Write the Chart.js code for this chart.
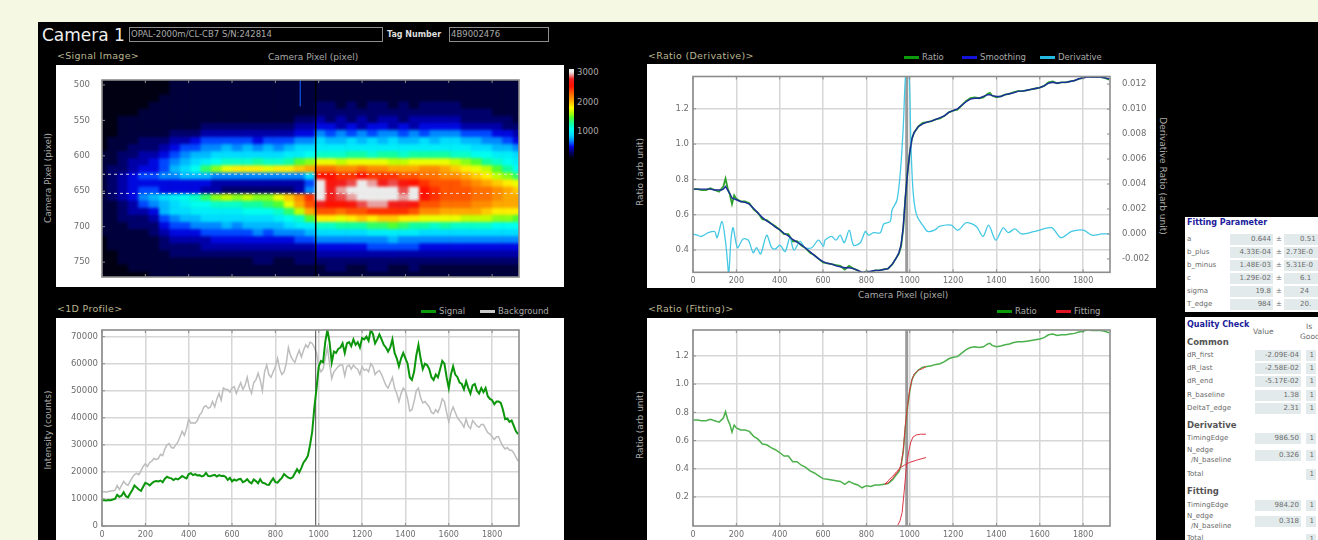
<!DOCTYPE html>
<html>
<head>
<meta charset="utf-8">
<script src="https://cdn.jsdelivr.net/npm/chart.js@4/dist/chart.umd.min.js"></script>
<style>
html, body { margin: 0; padding: 0; width: 1318px; height: 540px; overflow: hidden; background: #f5f9e3; }
#page { position: absolute; left: 0; top: 0; width: 1318px; height: 540px; overflow: hidden; filter: blur(0.65px); font-family: "DejaVu Sans", sans-serif; }
#board { position: absolute; left: 38px; top: 22px; width: 1280px; height: 518px; background: #000; }
canvas { position: absolute; background: #fff; }
#heatPanel { position: absolute; left: 56px; top: 65px; width: 508px; height: 222px; background: #fff; }
#cellClip { position: absolute; left: 102px; top: 80px; width: 417px; height: 197px; overflow: hidden; background: #000028; }
#cellChart { left: -46px; top: -15px; background: transparent; filter: blur(1.6px); }
#heatChart { background: transparent; }
.t { position: absolute; white-space: nowrap; line-height: 1; }
.head { color: #b9b58e; font-size: 9.5px; letter-spacing: .3px; }
.axis { color: #a8a8a8; font-size: 9px; }
.leg { color: #a8a8a8; font-size: 8.5px; }
.swatch { position: absolute; width: 15px; height: 3px; }
.rot-l { transform: translate(-50%, -50%) rotate(-90deg); }
.rot-r { transform: translate(-50%, -50%) rotate(90deg); }
.field { position: absolute; border: 1px solid #8d8d8d; color: #a9a9a9; font-size: 8.5px; line-height: 13px; padding-left: 1px; box-sizing: border-box; height: 15px; }
.side { position: absolute; left: 1185px; width: 133px; background: #fff; overflow: hidden; color: #6a6a6a; font-size: 7px; }
.side .box { position: absolute; background: #e3eaec; height: 11px; line-height: 11px; text-align: right; padding-right: 2px; box-sizing: border-box; }
.side .t.title { color: #20209a; font-weight: bold; font-size: 8px; }
.side .t.sect { color: #555; font-weight: bold; font-size: 8.5px; }
</style>
</head>
<body>
<div id="page">
  <div id="board"></div>

  <div class="t" style="left:42px;top:27px;color:#eee;font-size:17px">Camera 1</div>
  <div class="field" style="left:129px;top:27px;width:254px">OPAL-2000m/CL-CB7 S/N:242814</div>
  <div class="t" style="left:387px;top:31px;color:#ddd;font-size:8px;font-weight:bold">Tag Number</div>
  <div class="field" style="left:449px;top:27px;width:100px">4B9002476</div>

  <div class="t head" style="left:57px;top:51px">&lt;Signal Image&gt;</div>
  <div class="t head" style="left:648px;top:51px">&lt;Ratio (Derivative)&gt;</div>
  <div class="t head" style="left:57px;top:304px">&lt;1D Profile&gt;</div>
  <div class="t head" style="left:648px;top:304px">&lt;Ratio (Fitting)&gt;</div>

  <div class="t axis" style="left:268px;top:53px">Camera Pixel (pixel)</div>
  <div class="t axis" style="left:858px;top:291px">Camera Pixel (pixel)</div>
  <div class="t axis rot-l" style="left:48px;top:178px">Camera Pixel (pixel)</div>
  <div class="t axis rot-l" style="left:640px;top:172px">Ratio (arb unit)</div>
  <div class="t axis rot-r" style="left:1162px;top:176px">Derivative Ratio (arb unit)</div>
  <div class="t axis rot-l" style="left:48px;top:430px">Intensity (counts)</div>
  <div class="t axis rot-l" style="left:640px;top:425px">Ratio (arb unit)</div>

  <div class="swatch" style="left:904px;top:56px;background:#0a9a0a"></div><div class="t leg" style="left:922px;top:53px">Ratio</div>
  <div class="swatch" style="left:962px;top:56px;background:#1414d8"></div><div class="t leg" style="left:980px;top:53px">Smoothing</div>
  <div class="swatch" style="left:1040px;top:56px;background:#25b8e0"></div><div class="t leg" style="left:1058px;top:53px">Derivative</div>
  <div class="swatch" style="left:421px;top:310px;background:#0a9a0a"></div><div class="t leg" style="left:439px;top:307px">Signal</div>
  <div class="swatch" style="left:480px;top:310px;background:#c8c8c8"></div><div class="t leg" style="left:498px;top:307px">Background</div>
  <div class="swatch" style="left:997px;top:310px;background:#0a9a0a"></div><div class="t leg" style="left:1015px;top:307px">Ratio</div>
  <div class="swatch" style="left:1056px;top:310px;background:#e01525"></div><div class="t leg" style="left:1074px;top:307px">Fitting</div>

  <div id="colorbar" style="position:absolute;left:569px;top:69px;width:5px;height:89px"></div>
  <div class="t leg" style="left:577px;top:68px;font-size:8.5px">3000</div>
  <div class="t leg" style="left:577px;top:98px;font-size:8.5px">2000</div>
  <div class="t leg" style="left:577px;top:127px;font-size:8.5px">1000</div>

  <div id="heatPanel"></div>
  <div id="cellClip"><canvas id="cellChart" width="508" height="222"></canvas></div>
  <canvas id="heatChart" width="508" height="222" style="left:56px;top:65px"></canvas>
  <canvas id="derivChart" width="509" height="224" style="left:647px;top:64px"></canvas>
  <canvas id="profileChart" width="508" height="222" style="left:56px;top:318px"></canvas>
  <canvas id="fitChart" width="509" height="222" style="left:647px;top:318px"></canvas>

  <div class="side" id="fitParams" style="top:217px;height:95px"></div>
  <div class="side" id="quality" style="top:317px;height:223px"></div>
</div>

<script>
// ---- tick positions
var pixelTicks = [0,200,400,600,800,1000,1200,1400,1600,1800];
var rowTicks = [500,550,600,650,700,750];
var ratioTicks = [.4,.6,.8,1.0,1.2];
var fitRatioTicks = [.2,.4,.6,.8,1.0,1.2];
var derivTicks = [-.002,0,.002,.004,.006,.008,.010,.012];
var intensityTicks = [0,10000,20000,30000,40000,50000,60000,70000];

// ---- 1D profile, intensity read every 10 camera pixels
var profilePixels = [0,10,20,30,40,50,60,70,80,90,100,110,120,130,140,150,160,170,180,190,200,210,220,230,240,250,260,270,280,290,300,310,320,330,340,350,360,370,380,390,400,410,420,430,440,450,460,470,480,490,500,510,520,530,540,550,560,570,580,590,600,610,620,630,640,650,660,670,680,690,700,710,720,730,740,750,760,770,780,790,800,810,820,830,840,850,860,870,880,890,900,910,920,930,940,950,960,970,980,990,1000,1010,1020,1030,1040,1050,1060,1070,1080,1090,1100,1110,1120,1130,1140,1150,1160,1170,1180,1190,1200,1210,1220,1230,1240,1250,1260,1270,1280,1290,1300,1310,1320,1330,1340,1350,1360,1370,1380,1390,1400,1410,1420,1430,1440,1450,1460,1470,1480,1490,1500,1510,1520,1530,1540,1550,1560,1570,1580,1590,1600,1610,1620,1630,1640,1650,1660,1670,1680,1690,1700,1710,1720,1730,1740,1750,1760,1770,1780,1790,1800,1810,1820,1830,1840,1850,1860,1870,1880,1890,1900,1910,1920];
var signalValues = [9500,9500,9400,9600,9500,9800,10000,11500,10800,11200,12500,11000,10600,12000,13300,15000,14200,13500,13000,14500,16000,15600,15000,15800,16400,16600,16500,16800,16200,17500,18200,17800,17600,17000,17500,17200,17800,18500,18000,17600,19200,19500,18800,19200,18700,18800,18300,18600,19600,18500,18400,18700,18900,18300,18800,18500,18600,18200,17000,17800,16500,17200,16800,17300,17400,16200,16600,17300,16300,15800,17200,16600,15800,17300,16000,15800,15300,15200,16500,17600,16200,16000,17000,17800,19200,18500,17900,17600,18000,19500,21000,19800,21500,23500,24500,26000,30000,35000,44000,51000,59000,61000,60500,68000,72500,68000,60500,64500,64000,65500,66000,67500,64000,67500,68000,66500,69000,67000,68000,66000,69500,69000,70000,68500,72500,71000,67500,69000,70800,69000,67000,66000,64500,66000,69000,64000,62000,59000,62000,64000,62000,60000,55000,54000,57000,63000,67000,62000,58000,60000,59500,58000,55000,54000,56000,55000,58000,61000,60000,55000,51000,56000,59000,56000,55000,53000,52500,50500,53500,51000,49000,52000,52500,50000,49000,51000,49500,51000,48000,47000,46500,45000,46000,46000,45500,43000,39500,39800,38500,39000,37000,35000,34000];
var backgroundValues = [12700,12700,12500,12800,12900,13000,13200,15000,13500,15000,16500,15500,15000,16500,18000,19000,19500,19000,20500,22000,23000,22000,23500,24000,25000,24500,25000,26500,26000,28500,30000,30500,29000,28800,30000,31000,33000,35000,33500,36000,39500,38000,38200,38000,39000,41000,42000,44000,44500,43500,44000,46000,44000,47000,49000,46500,51000,50500,50500,49500,51000,51500,49000,51000,53000,50500,52000,55000,51000,49000,53000,54000,56500,54000,50000,57000,59500,56000,55000,57000,59000,62000,58000,56000,57000,60000,66000,63000,61500,60500,63000,65000,62500,65000,67000,66000,68000,67500,66000,64000,59000,57000,58000,62000,66000,60000,54500,57000,58000,59000,59500,59500,55500,59000,59500,58000,59500,58500,58000,56000,59000,57500,58000,57000,60000,59000,56000,57000,57500,56000,54000,52000,51000,53000,55000,51000,49000,46000,49000,51000,50000,47000,42500,43000,46000,50000,51000,47500,45500,46000,45000,44000,42000,41500,43000,42000,44000,47000,46000,42000,38500,42000,44000,42000,40000,39000,38000,36500,39500,37000,36000,39000,38000,37000,36500,37500,37500,36000,34500,34000,33000,32000,33000,33000,31000,29500,28500,29000,28000,28000,27000,25500,24000];

// ---- ratio, shared by both right hand charts
var ratioPixels = [0,20,40,60,80,100,120,130,140,150,160,170,180,190,200,220,240,260,280,300,320,340,360,380,400,420,440,460,480,500,520,540,560,580,600,620,640,660,680,700,720,740,760,780,800,820,840,860,880,900,920,940,950,960,970,980,990,1000,1010,1020,1040,1060,1080,1100,1120,1140,1160,1180,1200,1220,1240,1260,1280,1300,1320,1340,1360,1370,1380,1400,1420,1440,1460,1480,1500,1520,1540,1560,1580,1600,1620,1640,1660,1680,1700,1720,1740,1760,1780,1800,1820,1840,1860,1880,1900,1920];
var ratioValues = [.745,.745,.74,.74,.75,.74,.73,.745,.76,.805,.75,.715,.66,.71,.69,.675,.675,.665,.63,.61,.575,.57,.55,.535,.515,.49,.49,.45,.45,.425,.41,.385,.37,.35,.33,.325,.32,.315,.31,.29,.31,.295,.285,.265,.28,.275,.285,.285,.29,.295,.32,.36,.38,.42,.52,.70,.84,.95,1.03,1.065,1.10,1.12,1.125,1.13,1.14,1.145,1.16,1.18,1.19,1.195,1.22,1.245,1.26,1.265,1.26,1.265,1.285,1.29,1.275,1.265,1.27,1.28,1.285,1.295,1.30,1.30,1.305,1.31,1.315,1.32,1.33,1.35,1.355,1.345,1.35,1.35,1.355,1.36,1.37,1.375,1.385,1.38,1.38,1.38,1.375,1.365];
var smoothingValues = [.745,.745,.745,.745,.745,.74,.74,.74,.745,.76,.74,.72,.695,.69,.685,.675,.67,.66,.635,.61,.585,.565,.55,.53,.515,.495,.48,.46,.445,.43,.41,.39,.37,.35,.335,.325,.32,.31,.305,.30,.30,.295,.285,.275,.275,.28,.285,.285,.29,.295,.32,.36,.385,.43,.53,.70,.84,.95,1.03,1.065,1.10,1.115,1.125,1.13,1.14,1.15,1.16,1.18,1.19,1.20,1.22,1.24,1.255,1.26,1.26,1.27,1.28,1.28,1.275,1.27,1.27,1.28,1.285,1.29,1.30,1.30,1.305,1.31,1.315,1.32,1.33,1.345,1.35,1.345,1.35,1.35,1.355,1.36,1.37,1.375,1.38,1.38,1.38,1.38,1.375,1.37];

var derivPixels = [0,20,38,70,100,111,134,150,158,165,175,185,205,231,255,278,293,312,340,363,380,401,425,447,466,494,517,548,579,602,609,640,659,679,698,721,741,772,795,810,833,864,880,910,918,941,957,970,980,990,998,1006,1015,1025,1037,1060,1083,1114,1137,1191,1222,1261,1307,1338,1364,1397,1431,1454,1485,1516,1577,1654,1698,1747,1801,1842,1886,1920];
var derivValues = [0,-.0001,-.0002,.0001,.0002,-.0003,.001,-.0006,-.002,-.0032,-.0005,.0005,-.0011,-.0004,-.0005,-.0015,-.0011,-.0016,-.0001,-.0011,-.0012,-.0009,-.0014,-.0003,-.0013,-.0006,-.0011,-.0011,-.0005,-.001,-.0005,-.0002,-.0005,-.0001,-.0007,.0003,-.0009,-.0007,.0002,-.0001,.0001,.0001,.0008,.001,.0019,.0027,.005,.0085,.0125,.0135,.0125,.0069,.0035,.002,.0013,.0007,.0002,.0003,.0006,.0007,.0003,.0009,.0006,-.0002,.0007,-.0005,.0005,.0001,.0004,0,.0002,.0005,-.0003,.0002,.0003,-.0001,0,0];

// ---- the three fitted curves
var fitPixels = [885,900,920,940,950,960,970,980,990,1000,1010,1020,1040,1060,1075];
var fitTotal = [.29,.30,.33,.37,.39,.43,.53,.71,.85,.96,1.03,1.07,1.10,1.11,1.125];
var stepPixels = [945,955,965,975,985,995,1005,1015,1030,1050,1075];
var fitStep = [0,.03,.09,.25,.42,.52,.59,.625,.64,.645,.645];
var linePixels = [885,900,920,940,960,980,1000,1030,1075];
var fitLine = [.29,.315,.345,.38,.41,.43,.445,.46,.48];

var edgePixel = [986];

// ---- signal image, counts in hundreds, columns every 48 px, rows every 10 px
var heatColumns = [0,48,96,144,192,240,288,336,384,432,480,528,576,624,672,720,768,816,864,912,960,1008,1056,1104,1152,1200,1248,1296,1344,1392,1440,1488,1536,1584,1632,1680,1728,1776,1824,1872,1920];
var heatRowCentres = [498,508,518,528,538,548,558,568,578,588,598,608,618,628,638,648,658,668,678,688,698,708,718,728,738,748,758,768];
var heatCells = [
[0,0,0,0,0,0,0,1,1,1,1,1,1,1,1,1,1,1,1,1,1,1,1,1,1,1,1,1,1,1,1,1,1,1,1,1,1,1,1,1,1],
[0,0,0,0,0,0,0,1,1,1,1,1,1,1,1,1,1,1,1,1,1,1,1,1,1,1,1,1,1,1,1,1,1,1,1,1,1,1,1,1,1],
[0,0,0,0,0,0,1,1,1,1,1,1,1,1,1,1,1,1,1,1,1,1,1,1,1,1,1,1,1,1,1,1,1,1,1,1,1,1,1,1,1],
[0,0,0,0,0,1,1,1,1,1,1,1,1,1,1,1,1,1,1,1,1,2,2,1,2,1,2,2,1,2,1,2,2,2,2,1,1,1,1,1,1],
[0,0,0,0,1,1,1,1,1,1,1,1,1,1,1,1,1,1,1,1,1,2,2,2,2,2,2,2,2,2,2,2,2,2,2,2,2,2,1,1,1],
[0,0,1,1,1,1,1,1,1,1,1,1,1,1,1,1,1,1,1,2,2,3,2,3,2,3,2,3,3,2,3,3,3,3,3,2,2,2,2,2,1],
[0,0,1,1,1,1,1,1,1,1,2,2,2,2,2,2,2,2,2,3,3,4,4,3,4,3,4,4,3,4,3,4,4,4,4,3,3,3,3,2,2],
[0,0,1,1,1,1,1,2,2,2,3,3,3,3,3,3,3,3,3,4,4,6,5,6,5,6,5,6,6,5,6,5,6,6,6,5,5,5,4,4,3],
[0,1,1,1,2,2,2,3,3,4,5,5,5,5,5,4,5,5,5,6,6,8,7,7,8,7,8,7,8,7,7,8,7,8,8,7,7,6,6,5,4],
[0,1,1,2,2,2,3,4,5,5,6,6,7,6,7,6,7,6,7,8,8,9,9,9,9,9,9,9,9,9,9,9,9,9,9,9,8,8,7,7,6],
[1,1,2,2,3,3,4,5,6,7,7,8,8,8,8,8,8,8,9,9,10,11,11,11,12,12,11,12,12,11,12,12,12,12,11,11,10,10,9,9,8],
[1,1,2,3,3,4,5,6,7,8,9,10,11,11,11,12,11,11,12,14,15,17,17,16,17,17,17,17,16,16,17,17,17,17,16,15,14,12,11,10,9],
[1,2,2,3,4,4,5,7,8,10,13,15,17,18,18,18,17,18,18,19,20,22,22,21,21,22,21,21,20,20,20,21,21,20,19,18,17,16,14,12,10],
[1,2,3,4,5,5,6,6,7,7,7,6,6,6,6,6,6,6,6,6,8,25,25,24,24,25,24,24,24,23,23,22,22,21,21,20,19,18,16,15,13],
[1,2,3,4,4,4,4,4,4,4,4,3,3,3,3,3,3,3,3,3,5,30,26,27,28,30,29,27,28,26,25,24,23,23,23,22,21,20,19,18,17],
[1,2,3,4,5,5,4,4,4,4,3,3,2,2,2,2,2,2,2,3,6,30,27,29,30,30,30,30,30,28,30,25,24,23,23,23,22,22,21,20,19],
[1,2,3,4,6,7,8,9,10,11,13,15,16,15,16,15,15,17,19,21,24,30,27,28,29,30,30,30,30,29,30,25,24,23,23,23,22,22,21,20,20],
[1,1,2,3,5,6,7,8,9,10,10,11,11,11,12,12,13,14,17,20,23,27,25,25,26,28,29,29,27,27,26,23,23,22,22,22,21,21,20,20,20],
[1,1,2,3,3,4,7,8,8,9,9,9,9,9,10,10,10,11,13,16,20,23,23,22,23,23,24,24,24,24,23,21,21,20,20,20,20,19,18,18,18],
[1,1,2,2,2,3,5,6,7,7,8,8,8,8,8,8,8,9,10,11,14,18,18,17,18,19,18,19,19,18,18,17,17,17,17,16,16,16,15,15,14],
[1,1,1,2,2,2,4,5,5,6,6,6,7,6,7,7,7,7,8,9,9,11,11,12,12,12,13,13,14,13,12,12,11,12,11,11,11,11,10,10,10],
[1,1,1,1,1,2,3,4,4,4,5,5,5,5,5,6,5,6,6,6,7,8,8,8,8,8,9,9,9,9,9,8,8,8,8,8,8,8,8,8,8],
[0,1,1,1,1,1,2,3,3,3,3,4,4,4,4,4,4,4,4,5,5,6,6,6,6,6,6,6,7,6,6,6,6,6,6,6,6,6,6,6,6],
[0,1,1,1,1,1,2,2,2,2,3,3,3,3,3,3,3,3,3,3,3,4,4,4,4,4,5,5,5,5,5,4,4,4,4,4,4,4,4,4,4],
[0,0,1,1,1,1,1,2,2,2,2,2,2,2,2,2,2,2,2,2,2,3,3,3,3,3,3,3,3,3,3,3,3,3,3,3,3,3,3,3,3],
[0,0,1,1,1,1,1,1,1,1,1,1,1,1,1,2,2,1,1,2,2,2,2,2,2,2,2,2,2,2,2,2,2,2,2,2,2,2,2,2,2],
[0,0,0,1,1,1,1,1,1,1,1,1,1,1,1,1,1,1,1,1,1,1,2,2,1,1,2,2,1,1,2,1,1,1,1,1,1,1,1,1,1],
[0,0,0,0,0,1,1,1,1,1,1,1,1,1,1,1,1,1,1,1,1,1,1,1,1,1,1,1,1,1,1,1,1,1,1,1,1,1,1,1,1]
];
var gateLines = [626, 653];
var hotColumn = [915];
var hotRows = [493, 530];

// ---- colour scale of the image
var heatLevels = [0,100,200,300,400,500,600,700,800,1000,1200,1400,1600,1750,2000,2300,2500,2750,2900,3000];
var heatColors = ['#000012','#00003c','#00006c','#0000a8','#0008e0','#0048ff','#0088ff','#00b8ff','#00dcff','#00fff0','#10ffa0','#50ff30','#c0ff00','#ffff00','#ffa800','#ff5400','#ff1000','#f02020','#e8a0a0','#ececec'];

// ---- side tables
var paramNames = ['a','b_plus','b_minus','c','sigma','T_edge'];
var paramValues = ['0.644','4.33E-04','1.48E-03','1.29E-02','19.8','984'];
var paramErrors = ['0.51','2.73E-0','5.31E-0','6.1','24','20.'];
var commonNames = ['dR_first','dR_last','dR_end','R_baseline','DeltaT_edge'];
var commonValues = ['-2.09E-04','-2.58E-02','-5.17E-02','1.38','2.31'];

function hex(c) { return [1,3,5].map(function(i) { return parseInt(c.substr(i,2),16); }); }
function heatColor(v) {
    for (var i = 1; i < heatLevels.length; i++) {
        if (v <= heatLevels[i]) {
            var f = (v - heatLevels[i-1]) / (heatLevels[i] - heatLevels[i-1]);
            var a = hex(heatColors[i-1]), b = hex(heatColors[i]);
            return 'rgb(' + a.map(function(p, k) { return Math.round(p + (b[k]-p)*f); }).join(',') + ')';
        }
    }
    return heatColors[heatColors.length-1];
}

function pairs(xs, ys) { return xs.map(function(x, i) { return {x: x, y: ys[i]}; }); }
function lineSet(xs, ys, color, width, extra) {
    return Object.assign({type: 'line', data: pairs(xs, ys), borderColor: color, borderWidth: width, pointRadius: 0, tension: 0, fill: false, order: 0, yAxisID: 'y'}, extra || {});
}
function fixed(size) { return function(scale) { if (scale.isHorizontal()) scale.height = size; else scale.width = size; }; }
function useTicks(values) { return function(scale) { scale.ticks = values.map(function(v) { return {value: v}; }); }; }

var labelColor = '#6e6e6e';
var xLabelFont = {family: '"DejaVu Sans"', size: 8};
var yLabelFont = {family: '"DejaVu Sans"', size: 8.5};

function xAxis(height, extra) {
    return Object.assign({
        type: 'linear', min: 0, max: 1924, offset: false,
        grid: {color: '#d6d6d6', lineWidth: 1.5, tickLength: 0, offset: false},
        border: {display: false},
        ticks: {maxRotation: 0, autoSkip: false, color: labelColor, font: xLabelFont, padding: 4, callback: function(v) { return String(v); }},
        afterBuildTicks: useTicks(pixelTicks),
        afterFit: fixed(height)
    }, extra || {});
}
function yAxis(min, max, values, digits, width, extra) {
    return Object.assign({
        type: 'linear', min: min, max: max,
        grid: {color: '#d6d6d6', lineWidth: 1.5, tickLength: 0},
        border: {display: false},
        ticks: {autoSkip: false, color: labelColor, font: yLabelFont, padding: 4, callback: function(v) { return v.toFixed(digits); }},
        afterBuildTicks: useTicks(values),
        afterFit: fixed(width)
    }, extra || {});
}

// grey box round the plot, with the small tick marks pointing inwards
var plotFrame = {
    id: 'plotFrame',
    afterDraw: function(chart) {
        var c = chart.ctx, a = chart.chartArea;
        c.save();
        c.strokeStyle = '#8c8c8c';
        c.lineWidth = 1;
        Object.keys(chart.scales).forEach(function(id) {
            var s = chart.scales[id];
            s.ticks.forEach(function(t) {
                var p = s.getPixelForValue(t.value);
                c.beginPath();
                if (s.isHorizontal()) { c.moveTo(p, a.top); c.lineTo(p, a.top+3); c.moveTo(p, a.bottom); c.lineTo(p, a.bottom-3); }
                else { var left = s.position === 'left'; c.moveTo(left ? a.left : a.right, p); c.lineTo(left ? a.left+3 : a.right-3, p); }
                c.stroke();
            });
        });
        c.lineWidth = 1.6;
        c.strokeRect(a.left, a.top, a.right-a.left, a.bottom-a.top);
        c.restore();
    }
};

function baseOptions(padding, scales) {
    return {
        responsive: false, animation: false, devicePixelRatio: 1,
        layout: {padding: padding},
        plugins: {legend: {display: false}, tooltip: {enabled: false}},
        scales: scales
    };
}

// signal image cells: one floating bar dataset per row, on their own blurred canvas
var cellSets = heatCells.map(function(row, r) {
    return {
        type: 'bar', grouped: false, clip: false,
        barPercentage: 1.05, categoryPercentage: 1, borderWidth: 0,
        data: row.map(function(v, c) {
            return {x: heatColumns[c], y: [heatRowCentres[r]-5.4, heatRowCentres[r]+5.4], v: v*100};
        }),
        backgroundColor: function(ctx) { return ctx.raw ? heatColor(ctx.raw.v) : '#000'; }
    };
});
new Chart(document.getElementById('cellChart'), {
    type: 'bar',
    data: {datasets: cellSets},
    options: baseOptions({top: 15, bottom: 10, left: 46, right: 45}, {
        x: {type: 'linear', min: 0, max: 1924, offset: false, display: false},
        y: {type: 'linear', min: 493, max: 771, reverse: true, display: false}
    })
});

// axes and guide lines on top of the cells
var guideSets = [
    lineSet([hotColumn[0], hotColumn[0]], hotRows, '#1048c8', 1),
    lineSet([edgePixel[0], edgePixel[0]], [493, 771], '#000', 1.5)
];
gateLines.forEach(function(g) {
    guideSets.push(lineSet([0, 1924], [g, g], 'rgba(235,235,235,.9)', 1, {borderDash: [3, 3]}));
});
new Chart(document.getElementById('heatChart'), {
    type: 'line',
    data: {datasets: guideSets},
    options: baseOptions({top: 0, bottom: 10, left: 0, right: 45}, {
        x: xAxis(15, {position: 'top', grid: {display: false}}),
        y: yAxis(493, 771, rowTicks, 0, 46, {reverse: true, grid: {display: false}})
    }),
    plugins: [plotFrame]
});

// ratio with derivative on the second axis
new Chart(document.getElementById('derivChart'), {
    type: 'line',
    data: {datasets: [
        lineSet(derivPixels, derivValues, '#45c8e4', 1.3, {yAxisID: 'y2', order: 1, tension: .3}),
        lineSet([edgePixel[0], edgePixel[0]], [.27, 1.39], '#9a9a9a', 3, {order: 3}),
        lineSet(ratioPixels, ratioValues, '#2ea02e', 1.8, {order: 2}),
        lineSet(ratioPixels, smoothingValues, '#1c2a9c', 1.4, {order: 0})
    ]},
    options: baseOptions({top: 12.5, bottom: 0, left: 0, right: 0}, {
        x: xAxis(15.7),
        y: yAxis(.274, 1.383, ratioTicks, 1, 46),
        y2: yAxis(-.00307, .01261, derivTicks, 3, 46, {position: 'right', grid: {display: false}})
    }),
    plugins: [plotFrame]
});

// 1D profile
new Chart(document.getElementById('profileChart'), {
    type: 'line',
    data: {datasets: [
        lineSet(profilePixels, backgroundValues, '#bdbdbd', 1.5, {order: 3}),
        lineSet([edgePixel[0], edgePixel[0]], [0, 72470], '#4a4a4a', 1, {order: 2}),
        lineSet(profilePixels, signalValues, '#0c960c', 2, {order: 1})
    ]},
    options: baseOptions({top: 12, bottom: 0, left: 0, right: 45}, {
        x: xAxis(14),
        y: yAxis(0, 72470, intensityTicks, 0, 46)
    }),
    plugins: [plotFrame]
});

// ratio with the fitted curves
new Chart(document.getElementById('fitChart'), {
    type: 'line',
    data: {datasets: [
        lineSet([edgePixel[0], edgePixel[0]], [-.01, 1.39], '#9a9a9a', 3, {order: 4}),
        lineSet(ratioPixels, ratioValues, '#4cb04c', 1.5, {order: 3}),
        lineSet(fitPixels, fitTotal, '#dc3545', 1, {order: 1}),
        lineSet(stepPixels, fitStep, '#dc3545', 1, {order: 1}),
        lineSet(linePixels, fitLine, '#dc3545', 1, {order: 1})
    ]},
    options: baseOptions({top: 12, bottom: 0, left: 0, right: 46}, {
        x: xAxis(14),
        y: yAxis(-.006, 1.384, fitRatioTicks, 1, 46)
    }),
    plugins: [plotFrame]
});

// colour bar legend
document.getElementById('colorbar').style.background = 'linear-gradient(to bottom,' + heatLevels.slice().reverse().map(function(l) {
    return heatColor(l) + ' ' + ((3100-l)/3100*100).toFixed(1) + '%';
}).join(',') + ')';

// side tables
function addText(parent, cls, left, top, text, css) {
    var d = document.createElement('div');
    d.className = 't ' + cls;
    d.style.left = left + 'px';
    d.style.top = top + 'px';
    d.textContent = text;
    if (css) d.style.cssText += css;
    parent.appendChild(d);
}
function addBox(parent, left, top, width, text) {
    var d = document.createElement('div');
    d.className = 'box';
    d.style.left = left + 'px';
    d.style.top = top + 'px';
    d.style.width = width + 'px';
    d.textContent = text;
    parent.appendChild(d);
}
var fp = document.getElementById('fitParams');
addText(fp, 'title', 2, 2, 'Fitting Parameter');
paramNames.forEach(function(n, i) {
    var y = 17 + i*13;
    addText(fp, '', 2, y+2, n);
    addBox(fp, 45, y, 43, paramValues[i]);
    addText(fp, '', 91, y+2, '±');
    var e = document.createElement('div');
    e.className = 'box';
    e.style.cssText = 'left:99px;width:40px;text-align:left;padding-left:' + (paramErrors[i].length > 4 ? 2 : 16) + 'px;top:' + y + 'px';
    e.textContent = paramErrors[i];
    fp.appendChild(e);
});

var q = document.getElementById('quality');
addText(q, 'title', 2, 4, 'Quality Check');
addText(q, '', 68, 11, 'Value', 'font-size:7.5px');
addText(q, '', 121, 6, 'Is', 'font-size:7.5px');
addText(q, '', 115, 16, 'Good', 'font-size:7.5px');
addText(q, 'sect', 2, 21, 'Common');
commonNames.forEach(function(n, i) {
    var y = 33 + i*13.2;
    addText(q, '', 2, y+2, n);
    addBox(q, 70, y, 46, commonValues[i]);
    addBox(q, 121, y, 10, '1');
});
addText(q, 'sect', 2, 104, 'Derivative');
addText(q, '', 2, 118, 'TimingEdge');
addBox(q, 70, 116, 46, '986.50'); addBox(q, 121, 116, 10, '1');
addText(q, '', 2, 130, 'N_edge');
addText(q, '', 6, 140, '/N_baseline');
addBox(q, 70, 133, 46, '0.326'); addBox(q, 121, 133, 10, '1');
addText(q, '', 2, 154, 'Total');
addBox(q, 121, 152, 10, '1');
addText(q, 'sect', 2, 170, 'Fitting');
addText(q, '', 2, 185, 'TimingEdge');
addBox(q, 70, 183, 46, '984.20'); addBox(q, 121, 183, 10, '1');
addText(q, '', 2, 196, 'N_edge');
addText(q, '', 6, 206, '/N_baseline');
addBox(q, 70, 199, 46, '0.318'); addBox(q, 121, 199, 10, '1');
addText(q, '', 2, 218, 'Total');
addBox(q, 121, 217, 10, '1');
</script>
</body>
</html>
